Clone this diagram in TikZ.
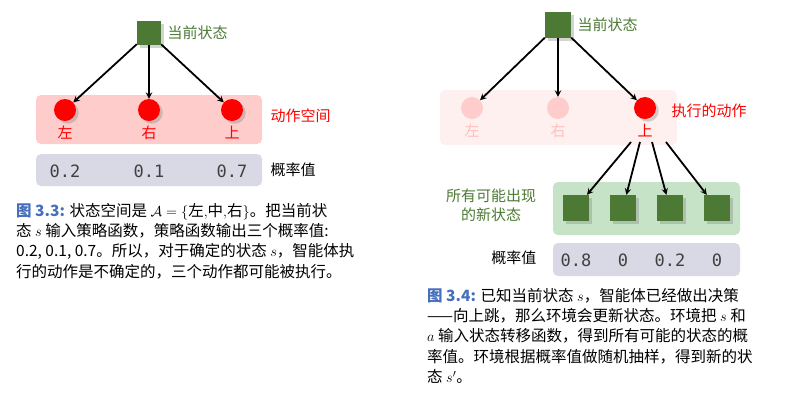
\documentclass[tikz,border=0pt]{standalone}
\usepackage{fontspec}
\setmainfont{Noto Sans CJK SC}
\newfontfamily\numfont{DejaVu Sans Mono}
\usetikzlibrary{positioning,shadows}
\definecolor{stgreen}{RGB}{76,122,52}
\definecolor{capblue}{RGB}{70,110,190}
\tikzset{
  state/.style={draw=none,fill=stgreen,minimum size=24pt,inner sep=0pt,drop shadow={opacity=0.35}},
  act/.style={circle,fill=red,minimum size=22pt,inner sep=0pt,drop shadow={opacity=0.35}},
  ghost/.style={circle,fill=red!20,minimum size=22pt,inner sep=0pt},
  arrow/.style={line width=1.8pt,->,>=stealth},
  lbl/.style={font=\fontsize{15}{19}\selectfont},
  num/.style={font=\numfont\fontsize{17}{19}\selectfont,text=black!75},
  captext/.style={font=\fontsize{15.5}{20.3}\selectfont,align=left,anchor=north west,inner sep=0pt},
}
\begin{document}
\begin{tikzpicture}[x=1pt,y=-1pt]
\useasboundingbox (0,0) rectangle (796,400);
% left panel
\fill[red!20,rounded corners=5pt] (36,95) rectangle (262,144);
\fill[blue!20!gray!25,rounded corners=5pt] (36,154) rectangle (262,186);
\node[state] (s) at (149,33) {};
\node[lbl,text=stgreen,right=3pt of s] (slbl) {当前状态};
\node[act] (left) at (65,110) {};
\node[act] (mid) at (149,110) {};
\node[act] (up) at (232,110) {};
\node[lbl,text=red] at (65,133) {左};
\node[lbl,text=red] at (149,133) {右};
\node[lbl,text=red] at (232,133) {上};
\node[lbl,text=red,anchor=west] (aspace) at (267,116) {动作空间};
\draw[arrow] (s) -- (left);
\draw[arrow] (s) -- (mid);
\draw[arrow] (s) -- (up);
\node[num] (p1) at (65,171) {0.2};
\node[num] (p2) at (149,171) {0.1};
\node[num] (p3) at (232,171) {0.7};
\node[lbl,anchor=west] (plbl) at (267,170) {概率值};
\node[captext] (cap1) at (16,203) {{\color{capblue}\bfseries 图 3.3:} 状态空间是 $\mathcal{A}=\{$左$,$中$,$右$\}$。把当前状\\
态 $s$ 输入策略函数，策略函数输出三个概率值:\\
0.2, 0.1, 0.7。所以，对于确定的状态 $s$，智能体执\\
行的动作是不确定的，三个动作都可能被执行。};
% right panel
\fill[red!6,rounded corners=5pt] (440,90) rectangle (677,145);
\fill[green!50!black!22,rounded corners=5pt] (553,182) rectangle (740,235);
\fill[blue!20!gray!25,rounded corners=5pt] (553,243) rectangle (740,276);
\node[state,minimum size=26pt] (s2) at (558,25) {};
\node[lbl,text=stgreen,right=3pt of s2] (s2lbl) {当前状态};
\node[ghost] (left2) at (472,108) {};
\node[ghost] (mid2) at (558,108) {};
\node[act] (up2) at (645,108) {};
\node[lbl,text=red!25] at (472,131) {左};
\node[lbl,text=red!25] at (558,131) {右};
\node[lbl,text=red] (up2lbl) at (645,131) {上};
\node[lbl,text=red,anchor=west] (done) at (668,111) {执行的动作};
\draw[arrow] (s2) -- (left2);
\draw[arrow] (s2) -- (mid2);
\draw[arrow] (s2) -- (up2);
\foreach \i/\x/\p in {1/576/0.8,2/623/0,3/670/0.2,4/717/0} {
  \node[state,minimum size=26pt] (n\i) at (\x,208) {};
  \node[num] (q\i) at (\x,260) {\p};
}
\coordinate (o1) at (631,142);
\coordinate (o2) at (640,142);
\coordinate (o3) at (652,142);
\coordinate (o4) at (666,142);
\foreach \i in {1,...,4} \draw[arrow] (o\i) -- (n\i);
\node[lbl,text=stgreen,align=center] (newlbl) at (491,205) {所有可能出现\\的新状态};
\node[lbl,anchor=east] (qlbl) at (540,258) {概率值};
\node[captext] (cap2) at (427,288) {{\color{capblue}\bfseries 图 3.4:} 已知当前状态 $s$，智能体已经做出决策\\
——向上跳，那么环境会更新状态。环境把 $s$ 和\\
$a$ 输入状态转移函数，得到所有可能的状态的概\\
率值。环境根据概率值做随机抽样，得到新的状\\
态 $s'$。};
\end{tikzpicture}
\end{document}
